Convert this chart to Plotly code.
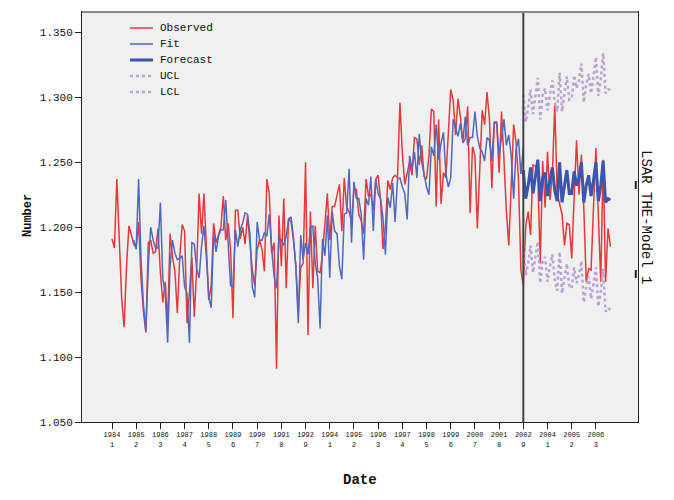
import plotly.graph_objects as go

# ---- data ----
tick_years = ["1984", "1985", "1986", "1987", "1988", "1989", "1990", "1991", "1992",
              "1994", "1995", "1996", "1997", "1998", "1999", "2000", "2001", "2002",
              "2004", "2005", "2006"]
tick_periods = ["1", "2", "3", "4", "5", "6", "7", "8", "9",
                "1", "2", "3", "4", "5", "6", "7", "8", "9",
                "1", "2", "3"]

observed = [
    1.191, 1.184, 1.237, 1.190, 1.145, 1.123, 1.170, 1.201, 1.193, 1.187,
    1.184, 1.204, 1.160, 1.135, 1.119, 1.188, 1.190, 1.180, 1.181, 1.199,
    1.165, 1.142, 1.158, 1.125, 1.195, 1.177, 1.166, 1.134, 1.177, 1.202,
    1.197, 1.126, 1.150, 1.177, 1.131, 1.168, 1.226, 1.195, 1.226, 1.190,
    1.144, 1.155, 1.203, 1.188, 1.195, 1.200, 1.224, 1.190, 1.203, 1.183,
    1.130, 1.213, 1.213, 1.191, 1.200, 1.187, 1.209, 1.188, 1.167, 1.155,
    1.183, 1.190, 1.183, 1.166, 1.237, 1.226, 1.180, 1.188, 1.091, 1.209,
    1.170, 1.222, 1.153, 1.207, 1.204, 1.190, 1.170, 1.134, 1.169, 1.172,
    1.250, 1.117, 1.212, 1.153, 1.201, 1.166, 1.165, 1.179, 1.205, 1.226,
    1.190, 1.216, 1.216, 1.224, 1.233, 1.197, 1.238, 1.215, 1.212, 1.204,
    1.229, 1.229, 1.210, 1.205, 1.195, 1.237, 1.224, 1.225, 1.213, 1.237,
    1.240, 1.221, 1.183, 1.200, 1.236, 1.229, 1.238, 1.240, 1.238, 1.296,
    1.257, 1.233, 1.242, 1.250, 1.240, 1.269, 1.268, 1.248, 1.263, 1.239,
    1.237, 1.255, 1.291, 1.289, 1.216, 1.283, 1.218, 1.242, 1.238, 1.270,
    1.306, 1.298, 1.271, 1.299, 1.285, 1.265, 1.268, 1.293, 1.211, 1.262,
    1.255, 1.199, 1.240, 1.290, 1.279, 1.304, 1.283, 1.230, 1.281, 1.281,
    1.242, 1.289, 1.252, 1.212, 1.186, 1.240, 1.279, 1.265, 1.237, 1.167,
    1.155, 1.201, 1.212, 1.194, 1.248, 1.247, 1.240, 1.172, 1.251, 1.215,
    1.258, 1.221, 1.240, 1.294, 1.226, 1.218, 1.210, 1.186, 1.203, 1.202,
    1.176, 1.223, 1.267, 1.225, 1.256, 1.215, 1.158, 1.168, 1.167, 1.215,
    1.261, 1.210, 1.158, 1.252, 1.158, 1.199, 1.185,
]

fit_start = 9
fit = [
    1.190, 1.183, 1.237, 1.175, 1.140, 1.120, 1.170, 1.200, 1.190, 1.184,
    1.184, 1.219, 1.160, 1.150, 1.111, 1.170, 1.190, 1.180, 1.175, 1.176,
    1.178, 1.154, 1.149, 1.111, 1.188, 1.187, 1.168, 1.161, 1.185, 1.201,
    1.177, 1.146, 1.138, 1.195, 1.181, 1.193, 1.198, 1.198, 1.221, 1.190,
    1.155, 1.154, 1.198, 1.185, 1.198, 1.203, 1.211, 1.210, 1.195, 1.154,
    1.146, 1.204, 1.190, 1.190, 1.196, 1.193, 1.210, 1.183, 1.162, 1.153,
    1.192, 1.190, 1.186, 1.193, 1.206, 1.208, 1.192, 1.169, 1.126, 1.194,
    1.175, 1.188, 1.179, 1.200, 1.201, 1.172, 1.161, 1.122, 1.191, 1.178,
    1.209, 1.161, 1.212, 1.197, 1.195, 1.170, 1.160, 1.210, 1.211, 1.245,
    1.188, 1.235, 1.222, 1.222, 1.210, 1.175, 1.222, 1.217, 1.239, 1.197,
    1.237, 1.226, 1.222, 1.207, 1.179, 1.223, 1.215, 1.234, 1.204, 1.237,
    1.238, 1.231, 1.226, 1.206, 1.255, 1.245, 1.258, 1.238, 1.272, 1.250,
    1.241, 1.231, 1.225, 1.262, 1.255, 1.279, 1.252, 1.265, 1.273, 1.241,
    1.231, 1.238, 1.283, 1.276, 1.270, 1.280, 1.266, 1.285, 1.263, 1.269,
    1.269, 1.289, 1.270, 1.261, 1.258, 1.251, 1.269, 1.267, 1.251, 1.280,
    1.280, 1.255, 1.270, 1.283, 1.263, 1.271, 1.255, 1.222, 1.260, 1.268,
    1.241, 1.262,
]

fc_start = 170
forecast = [
    1.244, 1.222, 1.232, 1.246, 1.226, 1.240, 1.252, 1.220, 1.238, 1.242,
    1.224, 1.236, 1.246, 1.228, 1.220, 1.250, 1.219, 1.232, 1.244, 1.226,
    1.226, 1.243, 1.232, 1.238, 1.250, 1.219, 1.232, 1.240, 1.224, 1.236,
    1.250, 1.220, 1.232, 1.251, 1.219, 1.222, 1.221,
]
ucl = [
    1.302, 1.281, 1.292, 1.306, 1.287, 1.302, 1.315, 1.283, 1.302, 1.307,
    1.290, 1.302, 1.313, 1.296, 1.289, 1.319, 1.289, 1.303, 1.316, 1.298,
    1.299, 1.317, 1.307, 1.313, 1.326, 1.296, 1.310, 1.318, 1.303, 1.316,
    1.331, 1.301, 1.314, 1.334, 1.303, 1.306, 1.306,
]
lcl = [
    1.186, 1.163, 1.172, 1.186, 1.165, 1.178, 1.189, 1.157, 1.174, 1.177,
    1.158, 1.170, 1.179, 1.160, 1.151, 1.181, 1.149, 1.161, 1.172, 1.154,
    1.153, 1.169, 1.157, 1.163, 1.174, 1.142, 1.154, 1.162, 1.145, 1.156,
    1.169, 1.139, 1.150, 1.168, 1.135, 1.138, 1.136,
]

series_names = ["Observed", "Fit", "Forecast", "UCL", "LCL"]
series_colors = ["#e8383a", "#4f69c0", "#3c55ad", "#bba2d4", "#bba2d4"]
series_widths = [1.5, 1.5, 3, 2.5, 2.5]
series_dash = ["solid", "solid", "solid", "dot", "dot"]

# ---- figure ----
FONT = "Liberation Mono, Courier New, monospace"
# page body has an 8px margin; plot area spans x 82..638, y 12..422 on screen
PL, PR, PT, PB = 82, 638, 12, 422
W, H = 666, 492
PW, PH = PR - PL, PB - PT


def px_x(x):
    return (x - PL) / PW


def px_y(y):
    return (PB - y) / PH


fig = go.Figure()
xs = [list(range(len(observed))),
      list(range(fit_start, fit_start + len(fit))),
      list(range(fc_start, fc_start + len(forecast))),
      list(range(fc_start, fc_start + len(ucl))),
      list(range(fc_start, fc_start + len(lcl)))]
ys = [observed, fit, forecast, ucl, lcl]
for name, x, y, c, w, d in zip(series_names, xs, ys, series_colors, series_widths, series_dash):
    fig.add_trace(go.Scatter(x=x, y=y, mode="lines", name=name,
                             line=dict(color=c, width=w, dash=d)))

fig.add_vline(x=fc_start, line=dict(color="#444444", width=2))

tickvals = [10 * k for k in range(len(tick_years))]
ticktext = [f"{a}<br>{b}" for a, b in zip(tick_years, tick_periods)]

fig.update_xaxes(range=[-12.4, 217.4], tickvals=tickvals, ticktext=ticktext,
                 ticks="outside", ticklen=6, tickwidth=1, tickcolor="#222",
                 showline=True, linecolor="#222", linewidth=1, mirror=True,
                 showgrid=False, zeroline=False, automargin=False,
                 tickfont=dict(family=FONT, size=7, color="#111"))
fig.update_yaxes(range=[1.05, 1.3657], tickvals=[1.05, 1.10, 1.15, 1.20, 1.25, 1.30, 1.35],
                 tickformat=".3f", ticks="outside", ticklen=6, tickwidth=1, tickcolor="#222",
                 showline=True, linecolor="#222", linewidth=1, mirror=True,
                 showgrid=False, zeroline=False, automargin=False,
                 tickfont=dict(family=FONT, size=11, color="#111"))

# axis titles
fig.add_annotation(text="<b>Date</b>", xref="paper", yref="paper", x=0.5, y=px_y(480),
                   xanchor="center", yanchor="middle", showarrow=False,
                   font=dict(family=FONT, size=14, color="#111"))
fig.add_annotation(text="<b>Number</b>", xref="paper", yref="paper", x=px_x(28),
                   y=px_y(215), xanchor="center", yanchor="middle", textangle=-90,
                   showarrow=False, font=dict(family=FONT, size=12, color="#111"))
fig.add_annotation(text="LSAR THE-Model 1", xref="paper", yref="paper",
                   x=px_x(646), xanchor="center", y=px_y(217), yanchor="middle",
                   textangle=90, showarrow=False,
                   font=dict(family=FONT, size=14, color="#111"))

# legend (drawn in the plot's top-left corner)
for k, (name, c, w, d) in enumerate(zip(series_names, series_colors, series_widths, series_dash)):
    yy = px_y(28 + 16 * k)
    fig.add_shape(type="line", xref="paper", yref="paper", x0=px_x(130), x1=px_x(153),
                  y0=yy, y1=yy, line=dict(color=c, width=w, dash=d))
    fig.add_annotation(text=name, xref="paper", yref="paper", x=px_x(158), y=yy,
                       xanchor="left", yanchor="middle", showarrow=False,
                       font=dict(family=FONT, size=11, color="#111"))

# top frame in gray and small marks on right border
fig.add_shape(type="line", xref="paper", yref="paper", x0=0, x1=1, y0=1, y1=1,
              line=dict(color="#888888", width=2))
fig.add_shape(type="line", xref="paper", yref="paper", x0=0.996, x1=0.996,
              y0=px_y(189), y1=px_y(181), line=dict(color="#222", width=2))
fig.add_shape(type="line", xref="paper", yref="paper", x0=0.996, x1=0.996,
              y0=px_y(278), y1=px_y(270), line=dict(color="#222", width=2))

fig.update_layout(
    width=W, height=H,
    margin=dict(l=PL - 8, r=(W + 8) - PR, t=PT - 8, b=(H + 8) - PB, autoexpand=False),
    paper_bgcolor="white", plot_bgcolor="#f0f0f0",
    showlegend=False,
)

fig.write_html("out.html")
